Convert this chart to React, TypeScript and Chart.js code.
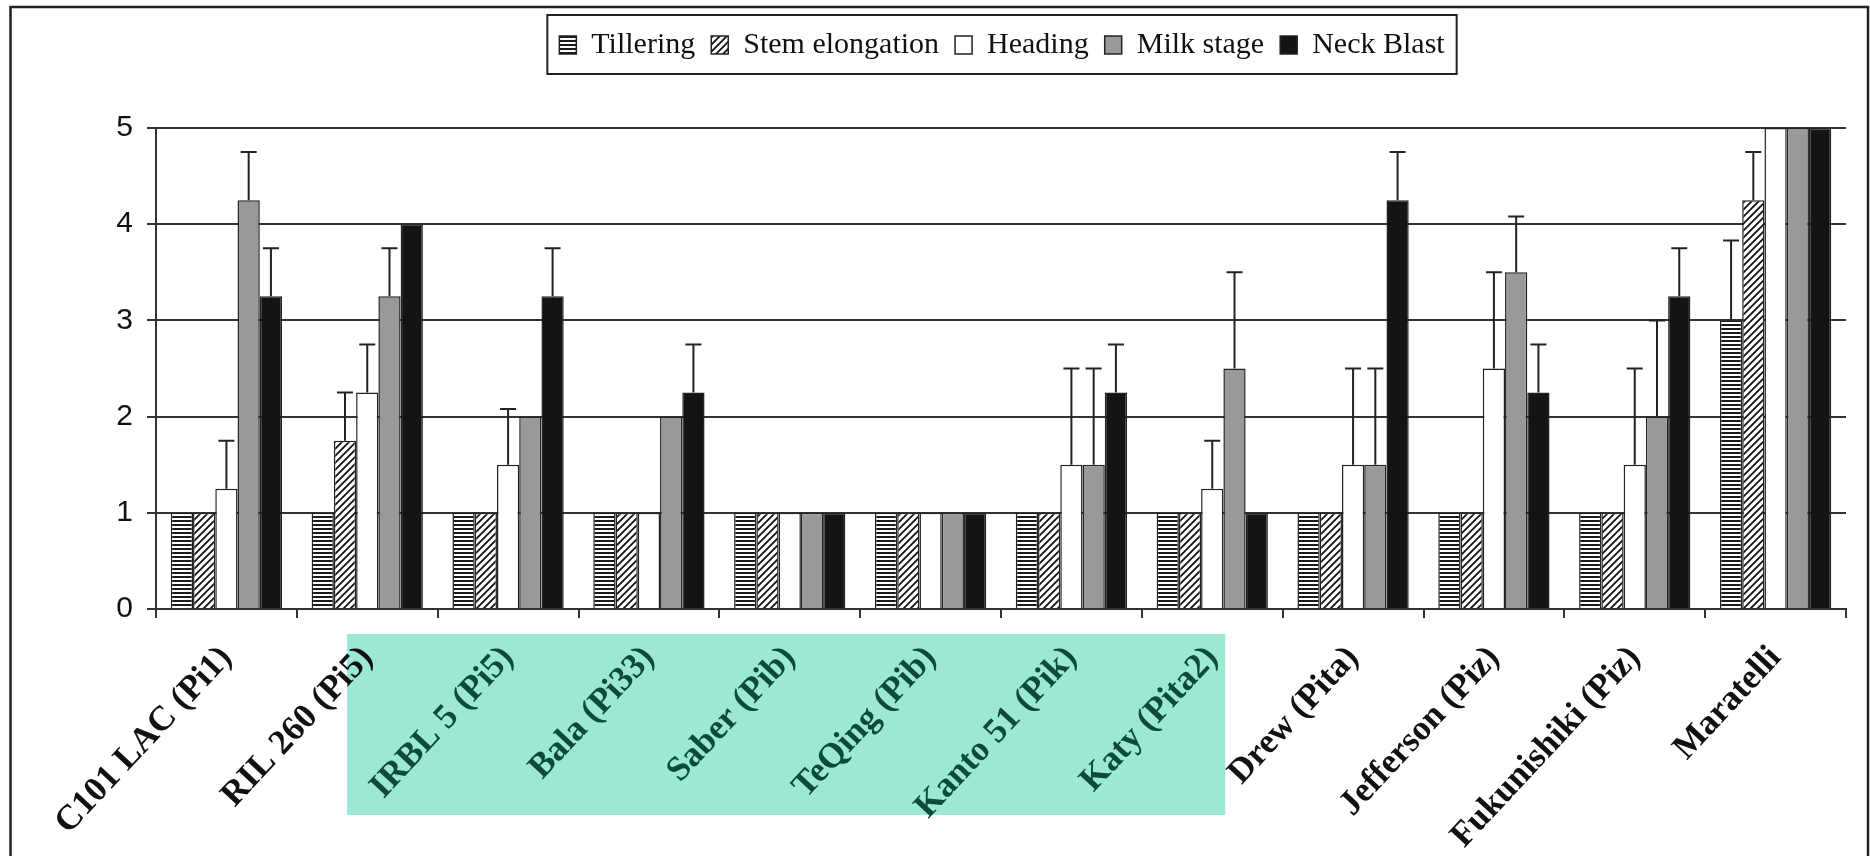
import React, { useEffect, useRef } from "react";
import { Chart, registerables } from "chart.js";

Chart.register(...registerables);

const categories = [
  "C101 LAC (Pi1)",
  "RIL 260 (Pi5)",
  "IRBL 5 (Pi5)",
  "Bala (Pi33)",
  "Saber (Pib)",
  "TeQing (Pib)",
  "Kanto 51 (Pik)",
  "Katy (Pita2)",
  "Drew (Pita)",
  "Jefferson (Piz)",
  "Fukunishiki (Piz)",
  "Maratelli",
];

const seriesNames = ["Tillering", "Stem elongation", "Heading", "Milk stage", "Neck Blast"];

const tillering = [1, 1, 1, 1, 1, 1, 1, 1, 1, 1, 1, 3];
const tilleringErr = [0, 0, 0, 0, 0, 0, 0, 0, 0, 0, 0, 0.83];
const stemElongation = [1, 1.75, 1, 1, 1, 1, 1, 1, 1, 1, 1, 4.25];
const stemElongationErr = [0, 0.5, 0, 0, 0, 0, 0, 0, 0, 0, 0, 0.5];
const heading = [1.25, 2.25, 1.5, 1, 1, 1, 1.5, 1.25, 1.5, 2.5, 1.5, 5];
const headingErr = [0.5, 0.5, 0.58, 0, 0, 0, 1, 0.5, 1, 1, 1, 0];
const milkStage = [4.25, 3.25, 2, 2, 1, 1, 1.5, 2.5, 1.5, 3.5, 2, 5];
const milkStageErr = [0.5, 0.5, 0, 0, 0, 0, 1, 1, 1, 0.58, 1, 0];
const neckBlast = [3.25, 4, 3.25, 2.25, 1, 1, 2.25, 1, 4.25, 2.25, 3.25, 5];
const neckBlastErr = [0.5, 0, 0.5, 0.5, 0, 0, 0.5, 0, 0.5, 0.5, 0.5, 0];

const yTicks = [0, 1, 2, 3, 4, 5];
const highlightedFrom = 2;
const highlightedTo = 7;

const SERIF = "'Liberation Serif', 'Times New Roman', serif";
const SANS = "'Liberation Sans', Arial, sans-serif";

function makeHStripe(): CanvasPattern | string {
  const c = document.createElement("canvas");
  c.width = 4;
  c.height = 4;
  const g = c.getContext("2d");
  if (!g) return "#888";
  g.fillStyle = "#ffffff";
  g.fillRect(0, 0, 4, 4);
  g.fillStyle = "#1a1a1a";
  g.fillRect(0, 0, 4, 2);
  return g.createPattern(c, "repeat") || "#888";
}

function makeDiag(): CanvasPattern | string {
  const s = 7;
  const c = document.createElement("canvas");
  c.width = s;
  c.height = s;
  const g = c.getContext("2d");
  if (!g) return "#ccc";
  g.fillStyle = "#ffffff";
  g.fillRect(0, 0, s, s);
  g.strokeStyle = "#111111";
  g.lineWidth = 1.8;
  g.beginPath();
  g.moveTo(-1, s + 1);
  g.lineTo(s + 1, -1);
  g.moveTo(-1, 1);
  g.lineTo(1, -1);
  g.moveTo(s - 1, s + 1);
  g.lineTo(s + 1, s - 1);
  g.stroke();
  return g.createPattern(c, "repeat") || "#ccc";
}

const LEGEND_CX = 1002;
const LEGEND_TOP = 14;

const legendPlacePlugin = {
  id: "legendPlace",
  afterLayout(chart: any) {
    const lg = chart.legend;
    if (!lg) return;
    const dx = LEGEND_CX - (lg.left + lg.right) / 2;
    lg.left += dx;
    lg.right += dx;
    const dy = LEGEND_TOP - lg.top;
    lg.top += dy;
    lg.bottom += dy;
  },
};

const decorPlugin = {
  id: "decor",
  beforeDraw(chart: any) {
    const { ctx, width, height } = chart;
    ctx.save();
    ctx.fillStyle = "#ffffff";
    ctx.fillRect(0, 0, width, height);
    // highlight behind the resistant-gene labels
    const xs = chart.scales.x;
    const x0 = xs.getPixelForValue(highlightedFrom) - 161;
    const x1 = xs.getPixelForValue(highlightedTo) + 13;
    const yTop = xs.top + 25;
    const yBot = xs.top + 206;
    ctx.fillStyle = "#9be8d4";
    ctx.fillRect(x0, yTop, x1 - x0, yBot - yTop);
    // outer frame
    ctx.strokeStyle = "#222";
    ctx.lineWidth = 2.5;
    ctx.beginPath();
    ctx.moveTo(10.5, height + 2);
    ctx.lineTo(10.5, 7);
    ctx.lineTo(width - 2, 7);
    ctx.lineTo(width - 2, height + 2);
    ctx.stroke();
    ctx.restore();
  },
  afterDraw(chart: any) {
    const lg = chart.legend;
    if (!lg || !lg.lineWidths) return;
    const pad = lg.options.labels.padding;
    const w = lg.lineWidths[0] - pad;
    const cx = (lg.left + lg.right) / 2;
    const ctx = chart.ctx;
    ctx.save();
    ctx.strokeStyle = "#222";
    ctx.lineWidth = 2;
    ctx.strokeRect(cx - w / 2 - 12, 15, w + 24, 59);
    ctx.restore();
  },
};

const errorBarPlugin = {
  id: "errorBars",
  afterDatasetsDraw(chart: any) {
    const ctx = chart.ctx;
    const ys = chart.scales.y;
    ctx.save();
    ctx.strokeStyle = "#222";
    ctx.lineWidth = 2;
    chart.data.datasets.forEach((ds: any, di: number) => {
      const meta = chart.getDatasetMeta(di);
      const errs: number[] = ds.errors || [];
      meta.data.forEach((bar: any, j: number) => {
        const e = errs[j];
        if (!e) return;
        const v = ds.data[j];
        const x = bar.x;
        const y0 = ys.getPixelForValue(v);
        const y1 = ys.getPixelForValue(v + e);
        ctx.beginPath();
        ctx.moveTo(x, y0);
        ctx.lineTo(x, y1);
        ctx.moveTo(x - 8, y1);
        ctx.lineTo(x + 8, y1);
        ctx.stroke();
      });
    });
    ctx.restore();
  },
};

export default function App() {
  const ref = useRef<HTMLCanvasElement | null>(null);

  useEffect(() => {
    document.body.style.margin = "0";
    const canvas = ref.current;
    if (!canvas) return;
    Chart.defaults.font.family = SERIF;
    const stripe = makeHStripe();
    const diag = makeDiag();
    const values = [tillering, stemElongation, heading, milkStage, neckBlast];
    const errs = [tilleringErr, stemElongationErr, headingErr, milkStageErr, neckBlastErr];
    const fills: any[] = [stripe, diag, "#ffffff", "#999999", "#141414"];

    const chart = new Chart(canvas, {
      type: "bar",
      data: {
        labels: categories,
        datasets: seriesNames.map((name, i) => ({
          label: name,
          data: values[i],
          errors: errs[i],
          backgroundColor: fills[i],
          borderColor: "#222",
          borderWidth: 1.5,
          categoryPercentage: 0.79,
          barPercentage: 1.0,
        })) as any,
      },
      options: {
        responsive: false,
        devicePixelRatio: 1,
        animation: false,
        layout: { padding: { top: 72, right: 24, bottom: 0, left: 0 } },
        plugins: {
          tooltip: { enabled: false },
          legend: {
            display: true,
            position: "top",
            labels: {
              boxWidth: 17,
              boxHeight: 18,
              padding: 16,
              color: "#111",
              font: { family: SERIF, size: 30 },
            },
          },
        },
        scales: {
          x: {
            afterFit: (s: any) => {
              s.height = 247;
            },
            grid: {
              display: true,
              drawOnChartArea: false,
              drawTicks: true,
              tickLength: 9,
              color: "#333",
              lineWidth: 2,
              offset: true,
            },
            border: { display: true, color: "#333", width: 2 },
            ticks: {
              autoSkip: false,
              maxRotation: 47,
              minRotation: 47,
              padding: 20,
              color: (c: any) =>
                c.index >= highlightedFrom && c.index <= highlightedTo ? "#0d4a3c" : "#111",
              font: {
                family: SERIF,
                size: 35,
                weight: "bold",
              },
            },
          },
          y: {
            min: 0,
            max: 5,
            afterFit: (s: any) => {
              s.width = 156;
            },
            afterBuildTicks: (s: any) => {
              s.ticks = yTicks.map((v) => ({ value: v }));
            },
            grid: {
              color: "#333",
              lineWidth: 2,
              tickLength: 9,
              drawTicks: true,
            },
            border: { display: true, color: "#333", width: 2 },
            ticks: {
              stepSize: 1,
              padding: 14,
              color: "#111",
              font: { family: SANS, size: 30 },
            },
          },
        },
      },
      plugins: [legendPlacePlugin, decorPlugin, errorBarPlugin],
    });
    return () => chart.destroy();
  }, []);

  return (
    <canvas
      ref={ref}
      width={1870}
      height={856}
      style={{ display: "block", width: "1870px", height: "856px" }}
    />
  );
}
